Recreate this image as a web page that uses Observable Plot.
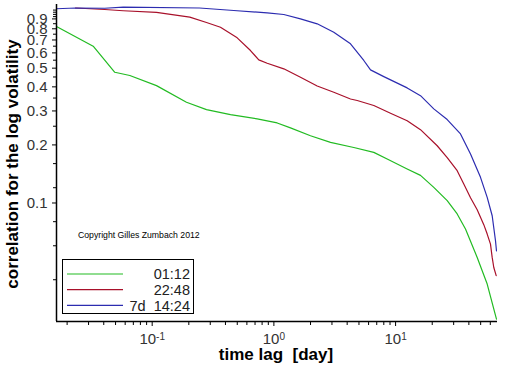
<!DOCTYPE html>
<html>
<head>
<meta charset="utf-8">
<script src="https://cdn.jsdelivr.net/npm/d3@7"></script>
<script src="https://cdn.jsdelivr.net/npm/@observablehq/plot@0.6"></script>
<style>
  html, body { margin: 0; padding: 0; background: #fff; }
  #chart { width: 512px; height: 366px; }
</style>
</head>
<body>
<div id="chart"></div>
<script>
// ---- Data ----
const seriesNames = ["01:12", "22:48", "7d  14:24"];
const seriesColors = ["#22bb22", "#a8102a", "#2c2cb0"];

const greenLag = [0.01636, 0.03275, 0.0493, 0.0655, 0.1085, 0.1913, 0.2794, 0.4399, 0.7292, 1.0644, 1.369, 1.998, 2.918, 4.534, 6.622, 8.531, 12.45, 16.02, 20.60, 26.55, 32.07, 37.53, 46.83, 56.58, 67.45];
const greenCorr = [0.822, 0.650, 0.476, 0.458, 0.406, 0.333, 0.305, 0.287, 0.273, 0.260, 0.245, 0.223, 0.206, 0.194, 0.183, 0.169, 0.150, 0.139, 0.1205, 0.1028, 0.0877, 0.0733, 0.0522, 0.0380, 0.0250];

const redLag = [0.02343, 0.04077, 0.0578, 0.1085, 0.2037, 0.2794, 0.3640, 0.4994, 0.6423, 0.7515, 0.8809, 1.206, 1.654, 2.269, 3.106, 4.261, 4.836, 6.622, 9.080, 12.45, 16.02, 21.97, 26.55, 32.07, 36.34, 41.27, 46.83, 53.05, 56.58, 60.22, 62.18, 64.11, 67.08];
const redCorr = [1.025, 1.007, 0.992, 0.972, 0.919, 0.862, 0.815, 0.718, 0.617, 0.552, 0.530, 0.496, 0.4485, 0.404, 0.375, 0.346, 0.340, 0.320, 0.292, 0.267, 0.240, 0.198, 0.172, 0.147, 0.1255, 0.1065, 0.0923, 0.0772, 0.0690, 0.0612, 0.0522, 0.0463, 0.0420];

const blueLag = [0.01636, 0.02343, 0.04077, 0.0578, 0.2447, 0.4684, 0.8809, 1.206, 1.654, 2.269, 3.106, 4.261, 5.480, 6.221, 7.998, 12.45, 16.02, 20.60, 26.55, 34.15, 41.27, 49.85, 56.58, 62.18, 66.21, 67.45];
const blueCorr = [1.016, 1.025, 1.022, 1.035, 1.025, 0.995, 0.968, 0.949, 0.901, 0.849, 0.768, 0.6685, 0.548, 0.490, 0.452, 0.395, 0.360, 0.3075, 0.2706, 0.228, 0.1796, 0.1358, 0.1069, 0.0859, 0.0637, 0.0565];

const xMajorTicks = [0.1, 1, 10];
const xTickExponents = ["-1", "0", "1"];
const xMinorTicks = [0.02, 0.03, 0.04, 0.05, 0.06, 0.07, 0.08, 0.09,
                     0.2, 0.3, 0.4, 0.5, 0.6, 0.7, 0.8, 0.9,
                     2, 3, 4, 5, 6, 7, 8, 9, 20, 30, 40, 50, 60];
const yMajorTicks = [0.1, 0.2, 0.3, 0.4, 0.5, 0.6, 0.7, 0.8, 0.9];
const yTickLabels = ["0.1", "0.2", "0.3", "0.4", "0.5", "0.6", "0.7", "0.8", "0.9"];
const yMinorTicks = [0.04, 0.06, 0.08, 0.12, 0.16, 0.25, 0.35, 0.45, 0.55, 0.65, 0.75, 0.85, 0.925, 0.95, 0.975, 1.0];

const xLabel = "time lag  [day]";
const yLabel = "correlation for the log volatility";
const copyright = "Copyright Gilles Zumbach 2012";

const xDomain = [0.01636, 68.76];
const yDomain = [0.0243, 1.069];

// ---- Build table ----
const lags = [greenLag, redLag, blueLag];
const corrs = [greenCorr, redCorr, blueCorr];
const rows = [];
seriesNames.forEach((name, s) => {
  lags[s].forEach((x, i) => rows.push({series: name, lag: x, corr: corrs[s][i]}));
});
const yLabelRows = yMajorTicks.map((v, i) => ({v, label: yTickLabels[i]}));

const font = "'Liberation Sans', Arial, Helvetica, sans-serif";

const plot = Plot.plot({
  width: 512,
  height: 366,
  marginLeft: 56,
  marginRight: 15,
  marginTop: 4,
  marginBottom: 45,
  style: {fontFamily: font, background: "#fff", color: "#000", overflow: "visible"},
  x: {type: "log", domain: xDomain, label: null},
  y: {type: "log", domain: yDomain, label: null},
  color: {domain: seriesNames, range: seriesColors},
  marks: [
    Plot.axisX({ticks: xMinorTicks, tickSize: 4, tickFormat: () => "", strokeWidth: 1}),
    Plot.axisX({ticks: xMajorTicks, tickSize: 5, tickPadding: 7, tickFormat: () => "10", fontSize: 15, strokeWidth: 1}),
    Plot.axisY({ticks: yMinorTicks, tickSize: 3, tickFormat: () => "", strokeWidth: 1}),
    Plot.axisY({ticks: yMajorTicks, tickSize: 4, tickFormat: () => "", strokeWidth: 1}),
    Plot.text(yLabelRows, {x: () => xDomain[0], y: "v", text: "label", textAnchor: "end", dx: -9, fontSize: 15, fill: "#333"}),
    Plot.line(rows, {x: "lag", y: "corr", z: "series", stroke: "series", strokeWidth: 1.2, curve: "linear", clip: true}),
    Plot.ruleX([xDomain[0]], {stroke: "#000", strokeWidth: 1.5}),
    Plot.ruleY([yDomain[0]], {stroke: "#000", strokeWidth: 1.5})
  ]
});

document.getElementById("chart").appendChild(plot);

const svg = d3.select(plot);

// Superscript exponents on the major x tick labels only
let k = 0;
svg.selectAll('g[aria-label="x-axis tick label"] text').each(function() {
  const t = d3.select(this);
  if (t.text() !== "10") return;
  t.text(null);
  t.append("tspan").text("10");
  t.append("tspan").attr("dy", "-0.45em").attr("font-size", 10).text(xTickExponents[k++]);
});
svg.selectAll('g[aria-label="x-axis tick label"]').attr("fill", "#333");

// Axis titles
svg.append("text")
  .attr("x", 276).attr("y", 360)
  .attr("text-anchor", "middle")
  .attr("font-family", font).attr("font-size", 17).attr("font-weight", "bold")
  .text(xLabel);
svg.append("text")
  .attr("transform", "translate(18,164) rotate(-90)")
  .attr("text-anchor", "middle")
  .attr("font-family", font).attr("font-size", 17).attr("font-weight", "bold")
  .text(yLabel);

// Copyright
svg.append("text")
  .attr("x", 78).attr("y", 238)
  .attr("text-anchor", "start")
  .attr("font-family", font).attr("font-size", 8.7)
  .text(copyright);

// Legend
const lg = svg.append("g");
lg.append("rect").attr("x", 62.5).attr("y", 259.5).attr("width", 131).attr("height", 54)
  .attr("fill", "#fff").attr("stroke", "#000").attr("stroke-width", 1);
seriesNames.forEach((name, i) => {
  const yy = 274 + i * 15.7;
  lg.append("line").attr("x1", 67).attr("x2", 123).attr("y1", yy).attr("y2", yy)
    .attr("stroke", seriesColors[i]).attr("stroke-width", 1.2);
  lg.append("text").attr("x", 190).attr("y", yy + 5.3)
    .attr("text-anchor", "end").attr("font-family", font).attr("font-size", 14.5)
    .attr("fill", "#222").style("white-space", "pre").attr("xml:space", "preserve")
    .text(name);
});
</script>
</body>
</html>
